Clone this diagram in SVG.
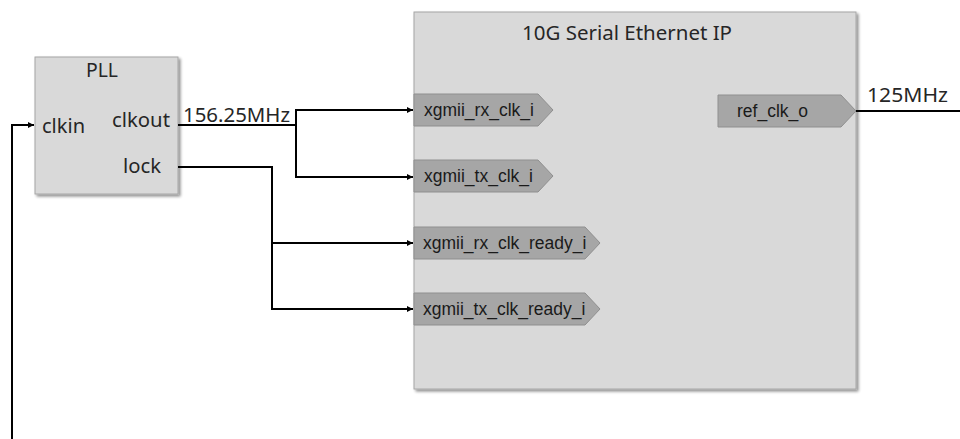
<svg xmlns="http://www.w3.org/2000/svg" width="960" height="439" viewBox="0 0 960 439">
<style>
.blk{fill:#d9d9d9;stroke:#a6a6a6;stroke-width:1}
.tag{fill:#a6a6a6;stroke:#8f8f8f;stroke-width:1}
.lbl{font-family:"Noto Sans","Open Sans",sans-serif;font-size:19px;fill:#262626}
.tt{font-family:"Liberation Sans",Arial,sans-serif;font-size:17.5px;fill:#1a1a1a}
.wire{fill:none;stroke:#000;stroke-width:2}
</style>
<defs>
<filter id="sh" x="-5%" y="-5%" width="115%" height="115%">
<feGaussianBlur in="SourceAlpha" stdDeviation="1.5"/>
<feOffset dx="2" dy="2" result="b"/>
<feComponentTransfer><feFuncA type="linear" slope="0.45"/></feComponentTransfer>
<feMerge><feMergeNode/><feMergeNode in="SourceGraphic"/></feMerge>
</filter>
<marker id="ah" viewBox="0 0 10 10" refX="10" refY="5" markerWidth="6" markerHeight="6" orient="auto" markerUnits="userSpaceOnUse">
<path d="M0,0 L10,5 L0,10 z" fill="#000"/>
</marker>
</defs>
<rect width="960" height="439" fill="#fff"/>
<g id="pll">
<rect class="blk" x="35" y="57" width="143" height="137" filter="url(#sh)"/>
<text class="lbl" x="86" y="77" textLength="32" lengthAdjust="spacingAndGlyphs">PLL</text>
<text class="lbl" x="42" y="133" textLength="43" lengthAdjust="spacingAndGlyphs">clkin</text>
<text class="lbl" x="112" y="127" textLength="58" lengthAdjust="spacingAndGlyphs">clkout</text>
<text class="lbl" x="123" y="173" textLength="38" lengthAdjust="spacingAndGlyphs">lock</text>
</g>
<g id="ip">
<rect class="blk" x="414" y="12" width="442" height="377" filter="url(#sh)"/>
<text class="lbl" x="522" y="40" textLength="210" lengthAdjust="spacingAndGlyphs">10G Serial Ethernet IP</text>
<g id="p_rx_clk">
<path class="tag" d="M414,94 H538 L553,110 L538,126 H414 Z"/>
<text class="tt" x="424" y="116">xgmii_rx_clk_i</text>
</g>
<g id="p_tx_clk">
<path class="tag" d="M414,160 H538 L553,176 L538,192 H414 Z"/>
<text class="tt" x="424" y="182">xgmii_tx_clk_i</text>
</g>
<g id="p_rx_rdy">
<path class="tag" d="M414,227 H585 L600,243 L585,259 H414 Z"/>
<text class="tt" x="423" y="249">xgmii_rx_clk_ready_i</text>
</g>
<g id="p_tx_rdy">
<path class="tag" d="M414,293 H585 L600,309 L585,325 H414 Z"/>
<text class="tt" x="423" y="315">xgmii_tx_clk_ready_i</text>
</g>
<g id="p_ref">
<path class="tag" d="M718,95 H841 L856,111 L841,127 H718 Z"/>
<text class="tt" x="737" y="117">ref_clk_o</text>
</g>
</g>
<g id="connectors">
<path class="wire" d="M12,439 V125 H34" marker-end="url(#ah)"/>
<path class="wire" d="M178,125 H296 V110 H413" marker-end="url(#ah)"/>
<path class="wire" d="M296,125 V177 H413" marker-end="url(#ah)"/>
<path class="wire" d="M178,167 H272 V243 H413" marker-end="url(#ah)"/>
<path class="wire" d="M272,243 V309 H413" marker-end="url(#ah)"/>
<path class="wire" d="M856,111 H960"/>
<text class="lbl" x="183" y="122" textLength="107" lengthAdjust="spacingAndGlyphs">156.25MHz</text>
<text class="lbl" x="867" y="102" textLength="81" lengthAdjust="spacingAndGlyphs">125MHz</text>
</g>
</svg>
